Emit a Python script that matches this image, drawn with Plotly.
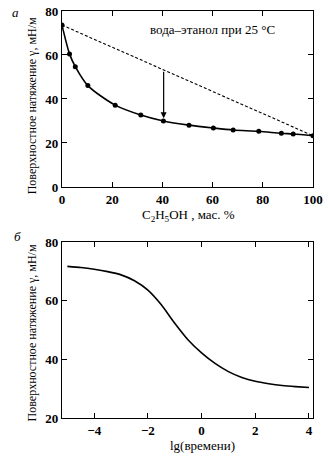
import plotly.graph_objects as go
from plotly.subplots import make_subplots

# (a) water-ethanol surface tension vs ethanol mass fraction
ethanol_pct = [0, 3.0, 5.3, 10.3, 21.2, 31.4, 40.4, 50.6, 60.3, 68.2, 78.4, 87.4, 92.1, 100]
gamma_mix = [73.6, 60.5, 54.7, 46.1, 37.2, 32.7, 30.0, 28.1, 26.8, 25.9, 25.3, 24.4, 24.1, 23.3]

# ideal (linear) mixing line between the pure components
ideal_x = [0, 100]
ideal_y = [73.6, 23.3]

# arrow showing the deviation at ~40 %
arrow_x = 40.5
arrow_top = 53.1
arrow_tip = 31.2

# (b) dynamic surface tension vs log time
lg_time = [-5, -4.5, -4, -3.5, -3, -2.5, -2, -1.5, -1, -0.5, 0, 0.5, 1, 1.5, 2, 2.5, 3, 3.5, 4]
gamma_t = [71.7, 71.3, 70.7, 69.9, 68.8, 66.8, 63.6, 58.6, 52.3, 46.6, 42.2, 38.6, 35.8,
           33.8, 32.5, 31.7, 31.1, 30.7, 30.4]

FONT = "Liberation Serif"
BLACK = "black"

# pixel layout of the page
W, H = 329, 457
ML, MR, MT, MB = 62, 16, 4, 39
PW, PH = W - ML - MR, H - MT - MB


def px(x):
    return (x - ML) / PW


def py(y):
    return (H - MB - y) / PH


fig = make_subplots(rows=2, cols=1)

fig.add_trace(go.Scatter(x=ideal_x, y=ideal_y, mode="lines",
                         line=dict(color=BLACK, width=1.1, dash="3px,2px")),
              row=1, col=1)
fig.add_trace(go.Scatter(x=ethanol_pct, y=gamma_mix, mode="lines+markers",
                         line=dict(color=BLACK, width=1.6, shape="spline", smoothing=0.8),
                         marker=dict(color=BLACK, size=5, symbol="circle")),
              row=1, col=1)
fig.add_trace(go.Scatter(x=lg_time, y=gamma_t, mode="lines",
                         line=dict(color=BLACK, width=1.6, shape="spline", smoothing=0.6)),
              row=2, col=1)

axis_common = dict(showline=True, linecolor=BLACK, linewidth=1.4, mirror="ticks",
                   ticks="inside", ticklen=5, tickwidth=1.2, tickcolor=BLACK,
                   showgrid=False, zeroline=False,
                   tickfont=dict(family=FONT, size=13, color=BLACK, weight="bold"))

fig.update_xaxes(**axis_common, range=[0, 100], tickvals=[0, 20, 40, 60, 80, 100], row=1, col=1)
fig.update_yaxes(**axis_common, range=[0, 80], tickvals=[0, 20, 40, 60, 80],
                 domain=[py(183), py(4)], row=1, col=1)
fig.update_xaxes(**axis_common, range=[-5.2, 4.15], tickvals=[-4, -2, 0, 2, 4],
                 ticktext=["\u22124", "\u22122", "0", "2", "4"], row=2, col=1)
fig.update_yaxes(**axis_common, range=[20, 80], tickvals=[20, 40, 60, 80],
                 domain=[py(418), py(239)], row=2, col=1)

fig.add_annotation(x=arrow_x, y=arrow_tip, ax=arrow_x, ay=arrow_top, xref="x", yref="y",
                   axref="x", ayref="y", showarrow=True, arrowhead=2, arrowsize=1,
                   arrowwidth=1.2, arrowcolor=BLACK, text="")
fig.add_annotation(x=60, y=71.5, xref="x", yref="y", showarrow=False,
                   text="вода–этанол при 25 °C",
                   font=dict(family=FONT, size=13, color=BLACK))

ytitle = "Поверхностное натяжение γ, мН/м"
title_font = dict(family=FONT, size=12, color=BLACK)
labels = [
    (32, 101, ytitle, -90, title_font),
    (32, 332, ytitle, -90, title_font),
    (188, 212, "C<sub>2</sub>H<sub>5</sub>OH , мас. %", 0, dict(family=FONT, size=13, color=BLACK)),
    (202, 446, "lg(времени)", 0, dict(family=FONT, size=13, color=BLACK)),
    (15, 6, "<i>а</i>", 0, dict(family=FONT, size=13, color=BLACK)),
    (17, 233, "<i>б</i>", 0, dict(family=FONT, size=13, color=BLACK)),
]
for x, y, text, angle, font in labels:
    fig.add_annotation(x=px(x), y=py(y), xref="paper", yref="paper", showarrow=False,
                       text=text, textangle=angle, font=font,
                       xanchor="center", yanchor="middle")

fig.update_layout(
    width=W, height=H,
    margin=dict(l=ML, r=MR, t=MT, b=MB),
    paper_bgcolor="white", plot_bgcolor="white",
    showlegend=False,
)

fig.write_html("out.html")
